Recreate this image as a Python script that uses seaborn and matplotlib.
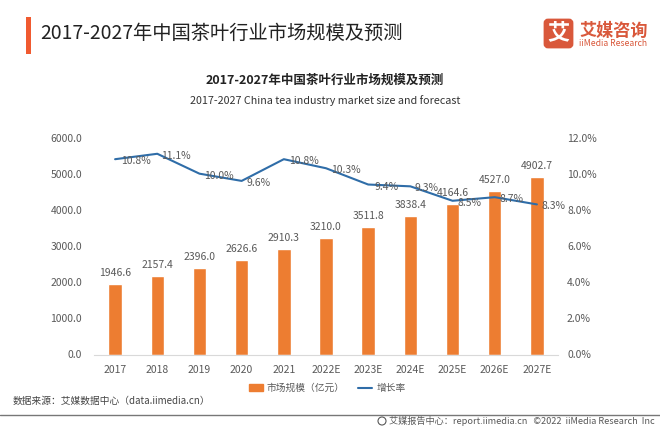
import matplotlib
matplotlib.use('Agg')
import matplotlib.pyplot as plt
from matplotlib.lines import Line2D
from matplotlib.patches import FancyBboxPatch, Patch, Rectangle, Circle
import numpy as np
import pandas as pd
import seaborn as sns

# data
years = ['2017', '2018', '2019', '2020', '2021', '2022E', '2023E', '2024E', '2025E', '2026E', '2027E']
market_size = [1946.6, 2157.4, 2396.0, 2626.6, 2910.3, 3210.0, 3511.8, 3838.4, 4164.6, 4527.0, 4902.7]
growth_rate = [10.8, 11.1, 10.0, 9.6, 10.8, 10.3, 9.4, 9.3, 8.5, 8.7, 8.3]
left_ticks = [0, 1000, 2000, 3000, 4000, 5000, 6000]
right_ticks = [0, 2, 4, 6, 8, 10, 12]

main_title = '2017-2027年中国茶叶行业市场规模及预测'
sub_title = '2017-2027 China tea industry market size and forecast'
source_text = '数据来源：艾媒数据中心（data.iimedia.cn）'
footer_text = '艾媒报告中心：report.iimedia.cn   ©2022  iiMedia Research  Inc'

# horizontal nudge of each growth label, pixels
rate_label_dx = [21, 19, 19, 17, 20, 20, 18, 16, 17, 17, 17]

ORANGE = '#ED7D31'
BLUE = '#2F6DA8'
GREY = '#595959'
W, H = 660, 429

sns.set_theme(style='white')
plt.rcParams['font.family'] = ['Noto Sans CJK SC', 'DejaVu Sans']
plt.rcParams['axes.unicode_minus'] = False

df = pd.DataFrame({'year': years, 'size': market_size, 'rate': growth_rate})

fig = plt.figure(figsize=(W / 100, H / 100), dpi=100, facecolor='white')
# axes box in pixels: x 94-558, y 137.5-354.5
ax = fig.add_axes([94 / W, 1 - 354.5 / H, 464 / W, 217 / H])

sns.barplot(data=df, x='year', y='size', color=ORANGE, width=0.32, saturation=1, ax=ax)
ax.set_xlim(-0.5, 10.5)
ax.set_ylim(0, 6000)
ax.set_yticks(left_ticks)
ax.set_yticklabels([f'{v:.1f}' for v in left_ticks])
ax.set_xlabel('')
ax.set_ylabel('')
ax.set_xticks(np.arange(-0.5, 11, 1), minor=True)
ax.tick_params(axis='x', which='major', length=0, pad=7.5, labelsize=7.5, labelcolor=GREY)
ax.tick_params(axis='x', which='minor', length=2.5, width=0.7, color='#D9D9D9')
ax.tick_params(axis='y', length=0, pad=8.5, labelsize=7.5, labelcolor=GREY)
for s in ['top', 'left', 'right']:
    ax.spines[s].set_visible(False)
ax.spines['bottom'].set_color('#D9D9D9')
ax.spines['bottom'].set_linewidth(0.8)

for i, v in enumerate(market_size):
    ax.annotate(f'{v:.1f}', (i, v), xytext=(0, 6), textcoords='offset pixels',
                ha='center', va='bottom', fontsize=7.5, color=GREY)

ax2 = ax.twinx()
sns.lineplot(data=df, x='year', y='rate', color=BLUE, linewidth=1.5, ax=ax2)
ax2.set_xlim(-0.5, 10.5)
ax2.set_ylim(0, 12)
ax2.set_yticks(right_ticks)
ax2.set_yticklabels([f'{v:.1f}%' for v in right_ticks])
ax2.set_xlabel('')
ax2.set_ylabel('')
ax2.tick_params(axis='y', length=0, pad=6.5, labelsize=7.5, labelcolor=GREY)
for s in ['top', 'left', 'right', 'bottom']:
    ax2.spines[s].set_visible(False)

for i, v in enumerate(growth_rate):
    ax2.annotate(f'{v:.1f}%', (i, v), xytext=(rate_label_dx[i], -2), textcoords='offset pixels',
                 ha='center', va='center', fontsize=7.5, color=GREY)

# legend
handles = [Patch(color=ORANGE, label='市场规模（亿元）'),
           Line2D([0], [0], color=BLUE, lw=1.5, label='增长率')]
fig.legend(handles=handles, loc='center', bbox_to_anchor=(327 / W, 1 - 388 / H), ncol=2,
           frameon=False, fontsize=7, labelcolor=GREY, handlelength=1.45, handleheight=0.6,
           handletextpad=0.4, columnspacing=1.4)

# titles
fig.text(40 / W, 1 - 33 / H, main_title, fontsize=13.9, color='#222222', va='center', ha='left', fontweight='medium')
fig.text(325 / W, 1 - 80 / H, main_title, fontsize=9, color='#222222', va='center', ha='center', fontweight='bold')
fig.text(325.5 / W, 1 - 101 / H, sub_title, fontsize=7.75, color='#333333', va='center', ha='center')
fig.text(13 / W, 1 - 400.5 / H, source_text, fontsize=7, color='#444444', va='center', ha='left')
fig.text(655 / W, 1 - 421 / H, footer_text, fontsize=6.6, color=GREY, va='center', ha='right')

# header bar, footer rule, logo
overlay = fig.add_axes([0, 0, 1, 1], facecolor='none')
overlay.set_xlim(0, W)
overlay.set_ylim(H, 0)
overlay.axis('off')
overlay.add_patch(Rectangle((26, 17), 5, 37, color='#F05A30', lw=0))
overlay.plot([0, W], [414.5, 414.5], color='#777777', lw=1)
overlay.add_patch(Circle((382, 421), 4, fill=False, ec=GREY, lw=0.8))
overlay.add_patch(FancyBboxPatch((545, 20), 27, 27, boxstyle='round,pad=0,rounding_size=3',
                                 fc='#D9583B', ec='#D9583B', lw=2))
overlay.text(558.5, 33, '艾', fontsize=16, fontweight='bold', color='white', ha='center', va='center')
overlay.text(579, 30.5, '艾媒咨询', fontsize=12.3, color='#D9583B', ha='left', va='center', fontweight='bold')
overlay.text(579, 43.5, 'iiMedia Research', fontsize=6.2, color='#D9583B', ha='left', va='center')

fig.savefig('out.png', dpi=100)
